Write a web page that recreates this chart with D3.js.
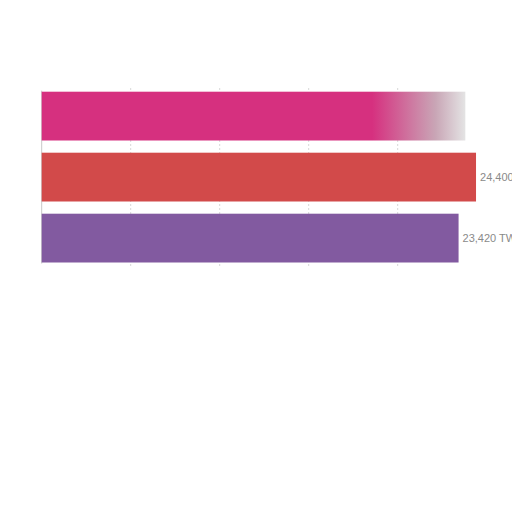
<!DOCTYPE html>
<html>
<head>
<meta charset="utf-8">
<script src="https://cdn.jsdelivr.net/npm/d3@7"></script>
<style>
  body { margin: 0; background: #fff; }
  svg { display: block; }
</style>
</head>
<body>
<svg width="512" height="512"></svg>
<script>
let width = 512, height = 512;

// data
const categories = ["A", "B", "C"];
const values = [23800, 24400, 23420];
const labels = ["", "24,400 TWh", "23,420 TWh"];
const colors = ["#d6307f", "#d24a4a", "#825aa0"];
const gridTicks = [5000, 10000, 15000, 20000];

let svg = d3.select("svg");

let x = d3.scaleLinear().domain([0, 5000]).range([41.7, 130.7]);
let y = d3.scaleBand().domain(categories).range([85.6, 268.6])
    .paddingInner(0.2).paddingOuter(0.1);

// fade on the top bar
let defs = svg.append("defs");
let grad = defs.append("linearGradient")
    .attr("id", "fade")
    .attr("gradientUnits", "userSpaceOnUse")
    .attr("x1", x(0)).attr("x2", x(values[0]))
    .attr("y1", 0).attr("y2", 0);
grad.append("stop").attr("offset", 0.78).attr("stop-color", colors[0]);
grad.append("stop").attr("offset", 0.93).attr("stop-color", "#c9a6b6");
grad.append("stop").attr("offset", 1).attr("stop-color", "#e4e4e4");

// grid
svg.append("g")
    .selectAll("line")
    .data(gridTicks)
    .enter()
    .append("line")
    .attr("x1", d => x(d)).attr("x2", d => x(d))
    .attr("y1", 88).attr("y2", 266)
    .attr("stroke", "#d8d8d8")
    .attr("stroke-dasharray", "2,2");

svg.append("line")
    .attr("x1", x(0)).attr("x2", x(0))
    .attr("y1", y("A") - 1).attr("y2", y("C") + y.bandwidth() + 1)
    .attr("stroke", "#c8c8c8");

// bars
svg.append("g")
    .selectAll("rect")
    .data(categories)
    .enter()
    .append("rect")
    .attr("x", x(0))
    .attr("y", d => y(d))
    .attr("width", (d, i) => x(values[i]) - x(0))
    .attr("height", y.bandwidth())
    .attr("fill", (d, i) => i === 0 ? "url(#fade)" : colors[i]);

// value labels
svg.append("g")
    .selectAll("text")
    .data(categories)
    .enter()
    .append("text")
    .attr("x", (d, i) => x(values[i]) + 4)
    .attr("y", d => y(d) + y.bandwidth() / 2 + 4)
    .attr("font-family", "Liberation Sans, Arial, sans-serif")
    .attr("font-size", 11)
    .attr("fill", "#8a8a8a")
    .text((d, i) => labels[i]);
</script>
</body>
</html>
